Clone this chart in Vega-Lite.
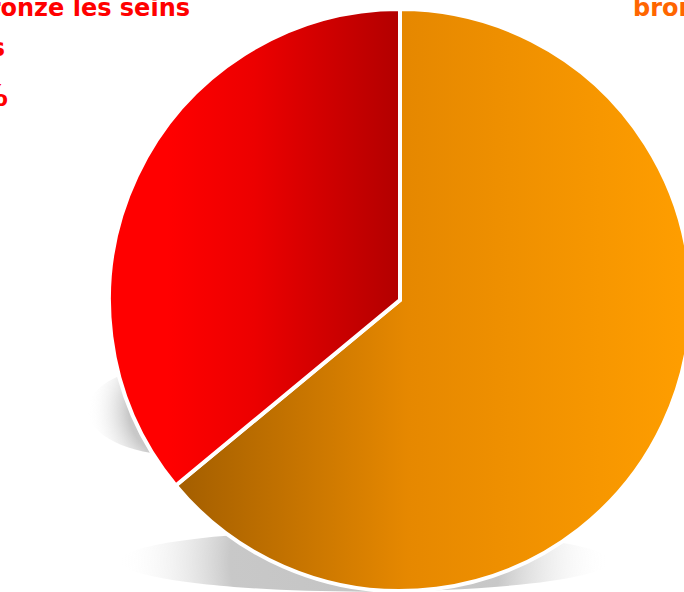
{
  "$schema": "https://vega.github.io/schema/vega-lite/v6.json",
  "width": 684,
  "height": 592,
  "padding": 0,
  "autosize": "none",
  "background": "white",
  "config": {"view": {"stroke": null}},
  "layer": [
    {
      "data": {"values": [{"ombre": "bas"}]},
      "mark": {
        "type": "point",
        "x": 365,
        "y": 561,
        "size": 240100,
        "shape": "M-1,0 A1,0.125 0 1,0 1,0 A1,0.125 0 1,0 -1,0 Z",
        "filled": true,
        "strokeWidth": 0,
        "opacity": 1,
        "fill": {
          "gradient": "radial",
          "x1": 0.5, "y1": 0.5, "r1": 0,
          "x2": 0.5, "y2": 0.5, "r2": 0.5,
          "stops": [
            {"offset": 0, "color": "rgba(196,196,196,1)"},
            {"offset": 0.55, "color": "rgba(200,200,200,1)"},
            {"offset": 1, "color": "rgba(255,255,255,0)"}
          ]
        }
      },
      "encoding": {}
    },
    {
      "data": {"values": [{"ombre": "gauche"}]},
      "mark": {
        "type": "point",
        "x": 178,
        "y": 410,
        "size": 32400,
        "shape": "M-1,0 A1,0.5 0 1,0 1,0 A1,0.5 0 1,0 -1,0 Z",
        "filled": true,
        "strokeWidth": 0,
        "opacity": 1,
        "fill": {
          "gradient": "radial",
          "x1": 0.5, "y1": 0.5, "r1": 0,
          "x2": 0.5, "y2": 0.5, "r2": 0.5,
          "stops": [
            {"offset": 0, "color": "rgba(196,196,196,1)"},
            {"offset": 0.55, "color": "rgba(200,200,200,1)"},
            {"offset": 1, "color": "rgba(255,255,255,0)"}
          ]
        }
      },
      "encoding": {}
    },
    {
      "data": {
        "values": [
          {"cat": "Je ne bronze pas les seins nus", "value": 64},
          {"cat": "Je bronze les seins nus", "value": 36}
        ]
      },
      "mark": {
        "type": "arc",
        "outerRadius": 291,
        "x": 400,
        "y": 300,
        "stroke": "white",
        "strokeWidth": 4
      },
      "encoding": {
        "theta": {"field": "value", "type": "quantitative", "stack": true},
        "fill": {
          "condition": {
            "test": "datum.cat === 'Je ne bronze pas les seins nus'",
            "value": {
              "gradient": "linear",
              "x1": 0, "y1": 0.5, "x2": 1, "y2": 0.5,
              "stops": [
                {"offset": 0, "color": "#a35e00"},
                {"offset": 0.45, "color": "#e68800"},
                {"offset": 1, "color": "#ff9e00"}
              ]
            }
          },
          "value": {
            "gradient": "linear",
            "x1": 0, "y1": 0.5, "x2": 1, "y2": 0.5,
            "stops": [
              {"offset": 0, "color": "#ff0000"},
              {"offset": 0.2, "color": "#ff0000"},
              {"offset": 0.5, "color": "#ec0000"},
              {"offset": 1, "color": "#b20000"}
            ]
          }
        }
      }
    },
    {
      "data": {"values": [{"label": "Je bronze les seins"}]},
      "mark": {"type": "text", "x": 190, "y": 16, "align": "right", "baseline": "alphabetic", "font": "DejaVu Sans", "fontWeight": "bold", "fontSize": 24, "fill": "#ff0000"},
      "encoding": {"text": {"field": "label"}}
    },
    {
      "data": {"values": [{"label": "nus"}]},
      "mark": {"type": "text", "x": 5, "y": 56, "align": "right", "baseline": "alphabetic", "font": "DejaVu Sans", "fontWeight": "bold", "fontSize": 24, "fill": "#ff0000"},
      "encoding": {"text": {"field": "label"}}
    },
    {
      "data": {"values": [{"label": "36%"}]},
      "mark": {"type": "text", "x": 8, "y": 106, "align": "right", "baseline": "alphabetic", "font": "DejaVu Sans", "fontWeight": "bold", "fontSize": 31, "fill": "#ff0000"},
      "encoding": {"text": {"field": "label"}}
    },
    {
      "data": {"values": [{"label": "bronze pas les seins nus"}]},
      "mark": {"type": "text", "x": 633, "y": 16, "align": "left", "baseline": "alphabetic", "font": "DejaVu Sans", "fontWeight": "bold", "fontSize": 24, "fill": "#ff6600"},
      "encoding": {"text": {"field": "label"}}
    }
  ]
}
